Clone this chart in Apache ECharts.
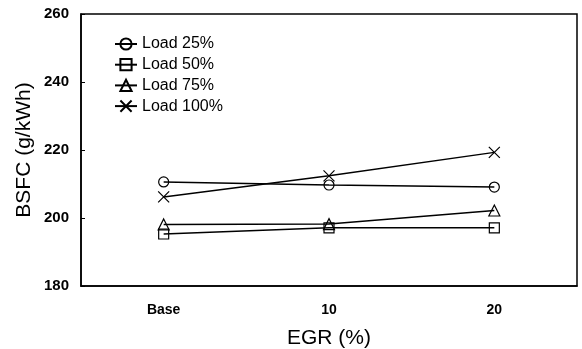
<!DOCTYPE html>
<html><head><meta charset="utf-8">
<script src="https://cdn.jsdelivr.net/npm/echarts@6/dist/echarts.min.js"></script>
<style>html,body{margin:0;padding:0;background:#fff}#c{width:582px;height:349px}</style>
</head><body><div id="c"></div>
<script>
const categories = ['Base', '10', '20'];
const load25 = [210.6, 209.7, 209.1];
const load50 = [195.3, 197.1, 197.1];
const load75 = [198.1, 198.2, 202.2];
const load100 = [206.2, 212.4, 219.3];
const seriesNames = ['Load 25%', 'Load 50%', 'Load 75%', 'Load 100%'];
const yTicks = [180, 200, 220, 240, 260];

const font = 'Liberation Sans, Arial, sans-serif';
const symbols = ['circle', 'rect', 'triangle', 'path://M0,0L10,10M10,0L0,10'];
const sizes = [10, 10, 11, 11];
const datas = [load25, load50, load75, load100];

const chart = echarts.init(document.getElementById('c'));
chart.setOption({
  animation: false,
  backgroundColor: '#fff',
  grid: { left: 81, right: 5, top: 14, bottom: 63, show: true, borderColor: '#000', borderWidth: 1.5,
          containLabel: false, outerBoundsMode: 'none' },
  legend: {
    orient: 'vertical', left: 114, top: 36, padding: 0, itemGap: 4.7, itemWidth: 22, itemHeight: 14,
    data: seriesNames,
    textStyle: { fontFamily: font, fontSize: 16, color: '#000' }
  },
  xAxis: {
    type: 'category', data: categories, boundaryGap: true,
    name: 'EGR (%)', nameLocation: 'middle', nameGap: 42, nameMoveOverlap: false,
    nameTextStyle: { fontFamily: font, fontSize: 21, color: '#000' },
    axisLine: { lineStyle: { color: '#000', width: 1.5 } },
    axisTick: { inside: true, length: 4, lineStyle: { color: '#000' } },
    axisLabel: { fontFamily: font, fontSize: 14, fontWeight: 'bold', color: '#000', margin: 17 },
    splitLine: { show: false }
  },
  yAxis: {
    type: 'value', min: yTicks[0], max: yTicks[yTicks.length - 1], interval: 20,
    name: 'BSFC (g/kWh)', nameLocation: 'middle', nameGap: 46, nameMoveOverlap: false,
    nameTextStyle: { fontFamily: font, fontSize: 21, color: '#000' },
    axisLine: { show: true, lineStyle: { color: '#000', width: 1.5 } },
    axisTick: { show: true, inside: true, length: 4, lineStyle: { color: '#000' } },
    axisLabel: { fontFamily: font, fontSize: 15, fontWeight: 'bold', color: '#000', margin: 12 },
    splitLine: { show: false }
  },
  series: seriesNames.map((n, i) => ({
    name: n, type: 'line', data: datas[i],
    symbol: symbols[i], symbolSize: sizes[i], showAllSymbol: true,
    lineStyle: { color: '#000', width: 1.5 },
    itemStyle: { color: 'rgba(255,255,255,0)', borderColor: '#000', borderWidth: 1.2 }
  }))
});
</script></body></html>
